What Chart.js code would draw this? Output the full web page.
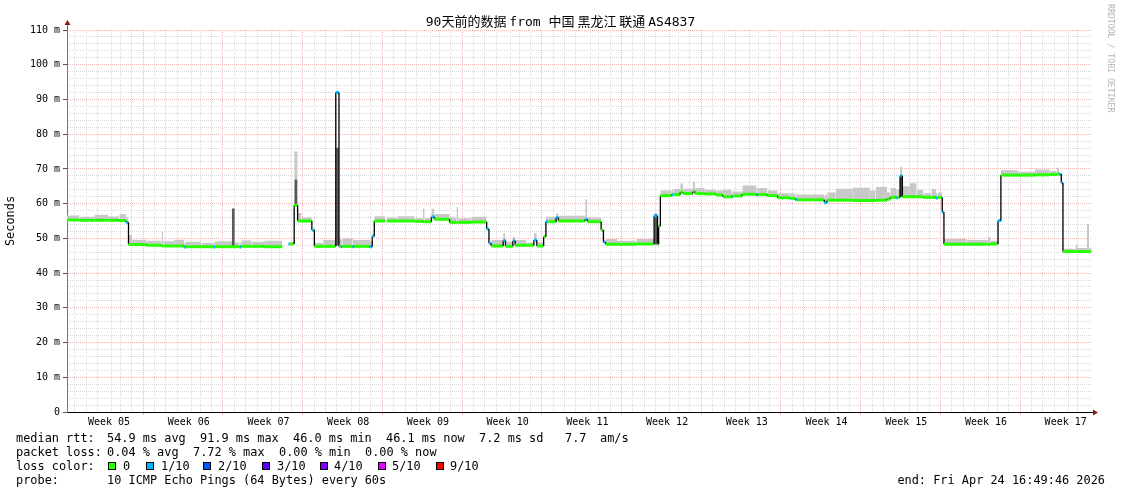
<!DOCTYPE html>
<html>
<head>
<meta charset="utf-8">
<script src="https://cdn.jsdelivr.net/npm/chart.js@4.4.1/dist/chart.umd.min.js"></script>
<style>
  body { margin: 0; background: #fff; }
  #wrap { position: relative; width: 1121px; height: 494px; background: #fff; color: #000; font-family: 'DejaVu Sans Mono', monospace; }
  #title { position: absolute; left: 0; top: 13px; width: 1121px; text-align: center; font-size: 13px; line-height: 16px; white-space: pre; }
  .cjk { font-family: 'Noto Sans CJK SC', sans-serif; }
  #brand { position: absolute; left: 1106px; top: 4px; writing-mode: vertical-rl; font-size: 8.2px; color: #b4b4b4; white-space: pre; }
  .t { position: absolute; font-size: 11.9px; line-height: 14px; white-space: pre; }
  .sq { position: absolute; top: 462px; width: 6px; height: 6px; border: 1px solid #000; }
</style>
</head>
<body>
<div id="wrap">
  <canvas id="chart" width="1121" height="494"></canvas>
  <div id="title">90<span class="cjk">天前的数据 </span>from <span class="cjk">中国 黑龙江 联通 </span>AS4837</div>
  <div id="brand">RRDTOOL / TOBI OETIKER</div>

  <span class="t" style="left:16px;top:431px">median rtt:</span>
  <span class="t" style="left:107px;top:431px">54.9 ms avg</span>
  <span class="t" style="left:200px;top:431px">91.9 ms max</span>
  <span class="t" style="left:293px;top:431px">46.0 ms min</span>
  <span class="t" style="left:386px;top:431px">46.1 ms now</span>
  <span class="t" style="left:479px;top:431px">7.2 ms sd</span>
  <span class="t" style="left:565px;top:431px">7.7</span>
  <span class="t" style="left:600px;top:431px">am/s</span>

  <span class="t" style="left:16px;top:445px">packet loss:</span>
  <span class="t" style="left:107px;top:445px">0.04 % avg</span>
  <span class="t" style="left:193px;top:445px">7.72 % max</span>
  <span class="t" style="left:279px;top:445px">0.00 % min</span>
  <span class="t" style="left:365px;top:445px">0.00 % now</span>

  <span class="t" style="left:16px;top:459px">loss color:</span>
  <div id="lossLegend"></div>

  <span class="t" style="left:16px;top:473px">probe:</span>
  <span class="t" style="left:107px;top:473px">10 ICMP Echo Pings (64 Bytes) every 60s</span>
  <span class="t" style="right:16px;top:473px">end: Fri Apr 24 16:49:46 2026</span>
</div>
<script>
// time axis: days since the start of the 90 day window
const dayStarts = [
  0.00, 1.10, 2.40, 3.60, 4.60, 5.20, 5.40, 5.70, 7.00, 8.30, 8.45, 9.40, 10.30, 10.45, 11.80, 12.85,
  13.00, 14.50, 15.15, 15.30, 16.20, 17.30, 18.90, 19.45, 19.60, 19.95, 20.25, 20.60, 21.50, 21.72, 22.50, 23.60,
  23.88, 24.05, 24.20, 25.05, 25.20, 26.60, 26.80, 26.98, 27.95, 28.10, 29.00, 30.50, 31.25, 31.40, 32.00, 32.25,
  33.60, 34.20, 34.35, 35.50, 36.85, 37.05, 37.25, 38.30, 38.50, 39.15, 39.35, 40.30, 41.00, 41.25, 41.85, 42.05,
  42.25, 42.95, 43.15, 45.50, 45.70, 46.90, 47.10, 47.30, 48.30, 50.00, 51.55, 51.85, 51.95, 52.10, 53.10, 53.25,
  53.85, 54.10, 54.95, 55.15, 56.00, 57.00, 57.60, 58.30, 58.45, 59.30, 60.55, 60.70, 61.50, 62.40, 63.50, 63.95,
  64.10, 66.50, 66.75, 67.50, 69.00, 70.50, 71.00, 72.00, 72.30, 72.80, 72.95, 73.15, 73.35, 74.00, 74.60, 75.20,
  75.90, 76.30, 76.45, 76.85, 77.00, 79.00, 80.85, 81.10, 81.75, 82.00, 83.50, 85.00, 86.30, 86.90, 87.10, 87.30,
  87.45, 88.55, 88.75, 89.55, 89.75
];
const dataEnd = 89.95;

// median rtt (ms) for each step
const medianMs = [
  55.3, 55.2, 55.2, 55.2, 55.1, 54.6, 48.2, 48.2, 48.0, 47.8, 47.8, 47.8, 47.5, 47.6, 47.6, 47.5,
  47.6, 47.6, 47.5, 47.7, 47.7, 47.6, null, 48.4, 48.4, 59.5, 55.0, 55.0, 52.4, 47.7, 47.7, 92.0,
  47.7, 47.6, 47.7, 47.6, 47.7, 47.6, 50.6, 55.0, null, 55.0, 55.0, 54.9, 54.8, 54.8, 56.2, 55.5,
  54.6, 54.6, 54.6, 54.7, 52.7, 48.6, 47.8, 49.4, 47.7, 49.3, 48.0, 48.0, 49.5, 47.8, 50.5, 54.8,
  54.8, 56.0, 55.0, 55.5, 54.8, 52.4, 48.9, 48.3, 48.3, 48.4, 56.5, 48.3, 53.5, 62.3, 62.6, 62.6,
  63.3, 62.9, 63.5, 62.9, 62.8, 62.5, 62.0, 62.0, 62.2, 62.7, 62.5, 62.6, 62.3, 61.7, 61.5, 61.2,
  61.1, 60.3, 61.0, 61.0, 60.9, 60.9, 61.0, 61.3, 61.8, 61.7, 61.8, 68.0, 62.0, 62.0, 62.0, 61.8,
  61.8, 61.6, 61.8, 57.5, 48.3, 48.3, 48.3, 48.4, 55.1, 68.2, 68.2, 68.3, 68.4, 68.5, 68.5, 66.0,
  46.2, 46.3, 46.2, 46.2, 46.2
];

// top of the smoke (ms) for each step
const smokeTopMs = [
  56.6, 56.2, 56.8, 56.3, 57.0, 56.0, 51.0, 49.6, 49.3, 51.9, 49.2, 49.6, 48.8, 49.0, 48.7, 48.8,
  49.2, 48.8, 48.8, 49.4, 49.0, 49.3, null, 48.6, 48.9, 75.0, 57.3, 56.0, 52.6, 48.7, 49.5, 92.2,
  49.8, 49.6, 50.0, 49.8, 49.5, 49.0, 50.8, 56.4, null, 56.0, 56.4, 55.8, 58.6, 55.8, 58.5, 57.0,
  56.0, 59.0, 55.8, 56.2, 52.9, 48.8, 49.5, 51.5, 49.0, 50.5, 49.5, 48.8, 51.5, 48.8, 50.8, 56.2,
  56.2, 57.2, 56.5, 61.2, 56.0, 52.6, 49.5, 49.8, 49.3, 49.8, 57.0, 48.5, 53.8, 63.8, 64.0, 64.2,
  65.8, 64.3, 66.3, 64.5, 64.0, 63.8, 64.0, 63.6, 63.5, 65.2, 64.5, 64.5, 63.8, 63.0, 62.9, 62.6,
  62.6, 62.5, 63.2, 64.3, 64.6, 63.8, 64.8, 63.2, 64.5, 64.0, 64.0, 70.6, 65.0, 65.9, 64.0, 63.0,
  64.2, 63.0, 63.2, 57.8, 49.8, 49.5, 50.4, 49.3, 55.3, 69.6, 69.2, 69.8, 69.4, 70.3, 68.8, 66.2,
  47.0, 48.2, 47.2, 54.1, 47.3
];

// lost pings out of 10 for each step
const lossTenths = [
  0, 0, 0, 0, 0, 1, 0, 0, 0, 0, 0, 0, 1, 0, 0, 1,
  0, 0, 1, 0, 0, 0, 0, 1, 0, 0, 0, 0, 1, 0, 0, 1,
  0, 1, 0, 1, 0, 1, 1, 0, 0, 0, 0, 0, 0, 0, 1, 0,
  0, 0, 0, 0, 1, 1, 0, 1, 0, 1, 0, 0, 1, 0, 0, 1,
  0, 1, 0, 1, 0, 0, 1, 0, 0, 0, 1, 0, 0, 0, 1, 0,
  0, 0, 0, 0, 0, 0, 0, 1, 0, 0, 1, 0, 0, 0, 0, 1,
  0, 1, 0, 0, 0, 0, 0, 0, 0, 1, 0, 1, 0, 0, 0, 0,
  0, 1, 0, 1, 0, 0, 0, 0, 1, 0, 0, 0, 0, 0, 1, 1,
  0, 0, 0, 0, 0
];

// dense (dark) smoke spikes
const spikeDays = [14.60, 20.10, 23.75, 51.70, 73.25];
const spikeLowMs = [47.8, 60.0, 48.0, 48.3, 62.0];
const spikeHighMs = [58.5, 66.8, 76.0, 57.0, 68.0];

const weekLabels = ['Week 05', 'Week 06', 'Week 07', 'Week 08', 'Week 09', 'Week 10', 'Week 11',
  'Week 12', 'Week 13', 'Week 14', 'Week 15', 'Week 16', 'Week 17'];
const firstWeekLine = 0.19;

const lossLabels = ['0', '1/10', '2/10', '3/10', '4/10', '5/10', '9/10'];
const lossColors = ['#26ff00', '#00b8ff', '#0059ff', '#5e00ff', '#7e00ff', '#dd00ff', '#ff0000'];
const lossColorOf = n => lossColors[Math.min(n, 5)];

// loss colour legend row
const legendBox = document.getElementById('lossLegend');
const sqX = [108, 146, 203, 262, 320, 378, 436];
const lblX = [123, 161, 218, 277, 334, 392, 450];
lossLabels.forEach((lbl, i) => {
    const sq = document.createElement('div');
    sq.className = 'sq';
    sq.style.left = sqX[i] + 'px';
    sq.style.background = lossColors[i];
    legendBox.appendChild(sq);
    const t = document.createElement('span');
    t.className = 't';
    t.style.left = lblX[i] + 'px';
    t.style.top = '459px';
    t.textContent = lbl;
    legendBox.appendChild(t);
});

// each step becomes a flat piece followed by a vertical jump
const stepPoints = values => {
    const pts = [];
    dayStarts.forEach((t, i) => {
        const next = i + 1 < dayStarts.length ? dayStarts[i + 1] : dataEnd;
        pts.push({ x: t, y: values[i] }, { x: next, y: values[i] });
    });
    return pts;
};

const isJump = c => c.p0.parsed.x === c.p1.parsed.x;

const majorGrid = '#f2b6b6';
const minorGrid = '#dadada';
const clear = 'rgba(0,0,0,0)';
const mono = { family: 'DejaVu Sans Mono', size: 10 };
const tickKind = c => (c.tick ? c.tick.kind : undefined);
const tickVal = c => (c.tick ? c.tick.value : NaN);

const arrows = {
    id: 'arrows',
    afterDraw(chart) {
        const { ctx, chartArea: a } = chart;
        ctx.save();
        ctx.strokeStyle = '#666';
        ctx.lineWidth = 1;
        ctx.beginPath();
        ctx.moveTo(a.left + 0.5, a.top);
        ctx.lineTo(a.left + 0.5, a.top - 6);
        ctx.stroke();
        ctx.strokeStyle = '#000';
        ctx.beginPath();
        ctx.moveTo(a.right, a.bottom + 0.5);
        ctx.lineTo(a.right + 2, a.bottom + 0.5);
        ctx.stroke();
        ctx.fillStyle = '#8b1a1a';
        ctx.beginPath();
        ctx.moveTo(a.left - 2.5, a.top - 5);
        ctx.lineTo(a.left + 3.5, a.top - 5);
        ctx.lineTo(a.left + 0.5, a.top - 10);
        ctx.fill();
        ctx.beginPath();
        ctx.moveTo(a.right + 1, a.bottom - 2.5);
        ctx.lineTo(a.right + 1, a.bottom + 3.5);
        ctx.lineTo(a.right + 6, a.bottom + 0.5);
        ctx.fill();
        ctx.restore();
    }
};

new Chart(document.getElementById('chart'), {
    type: 'line',
    data: {
        datasets: [
            {
                type: 'bar',
                data: spikeDays.map((d, i) => ({ x: d, y: [spikeLowMs[i], spikeHighMs[i]] })),
                backgroundColor: '#5a5a5a',
                barThickness: 2,
                order: 1
            },
            {
                data: stepPoints(medianMs),
                pointRadius: 0,
                borderWidth: 3,
                borderColor: '#26ff00',
                segment: {
                    borderColor: c => isJump(c) ? '#000' : lossColorOf(lossTenths[c.p0DataIndex >> 1]),
                    borderWidth: c => isJump(c) ? 1.3 : 3
                },
                order: 0
            },
            {
                data: stepPoints(smokeTopMs),
                pointRadius: 0,
                borderWidth: 0,
                backgroundColor: '#c8c8c8',
                fill: '-1',
                order: 2
            }
        ]
    },
    options: {
        responsive: false,
        animation: false,
        layout: { padding: { top: 30, right: 29, left: 0, bottom: 0 } },
        plugins: { legend: { display: false }, tooltip: { enabled: false } },
        scales: {
            x: {
                type: 'linear',
                min: 0,
                max: 90,
                offset: false,
                afterFit: s => { s.height = 82; },
                afterBuildTicks: s => {
                    const ticks = [];
                    for (let k = 0; k < 90; k++) {
                        ticks.push({ value: firstWeekLine + k, kind: k % 7 === 0 ? 'week' : 'day' });
                    }
                    weekLabels.forEach((lbl, i) => ticks.push({ value: firstWeekLine + 7 * i + 3.5, kind: 'label', text: lbl }));
                    ticks.sort((a, b) => a.value - b.value);
                    s.ticks = ticks;
                },
                ticks: {
                    autoSkip: false,
                    maxRotation: 0,
                    minRotation: 0,
                    padding: 1,
                    color: '#000',
                    font: mono,
                    callback: (v, i, ticks) => (ticks[i] && ticks[i].kind === 'label') ? ticks[i].text : ''
                },
                grid: {
                    color: c => tickKind(c) === 'week' ? majorGrid : tickKind(c) === 'day' ? minorGrid : clear,
                    tickColor: c => tickKind(c) === 'week' ? majorGrid : clear,
                    tickLength: 3
                },
                border: { color: '#000', width: 1, dash: [1, 1] }
            },
            y: {
                min: 0,
                max: 110,
                afterFit: s => { s.width = 67; },
                afterBuildTicks: s => {
                    s.ticks = Array.from({ length: 56 }, (_, i) => ({ value: i * 2 }));
                },
                ticks: {
                    autoSkip: false,
                    padding: 3,
                    color: '#000',
                    font: mono,
                    callback: v => v % 10 === 0 ? (v === 0 ? '0' : v + ' m') : ''
                },
                grid: {
                    color: c => tickVal(c) % 10 === 0 ? majorGrid : minorGrid,
                    tickColor: c => tickVal(c) % 10 === 0 ? '#555' : clear,
                    tickLength: 4
                },
                border: { color: '#777', width: 1, dash: [1, 1] },
                title: {
                    display: true,
                    text: 'Seconds',
                    color: '#000',
                    font: { family: 'DejaVu Sans Mono', size: 11.9 },
                    padding: { top: 4, bottom: 0 }
                }
            }
        }
    },
    plugins: [arrows]
});
</script>
</body>
</html>
